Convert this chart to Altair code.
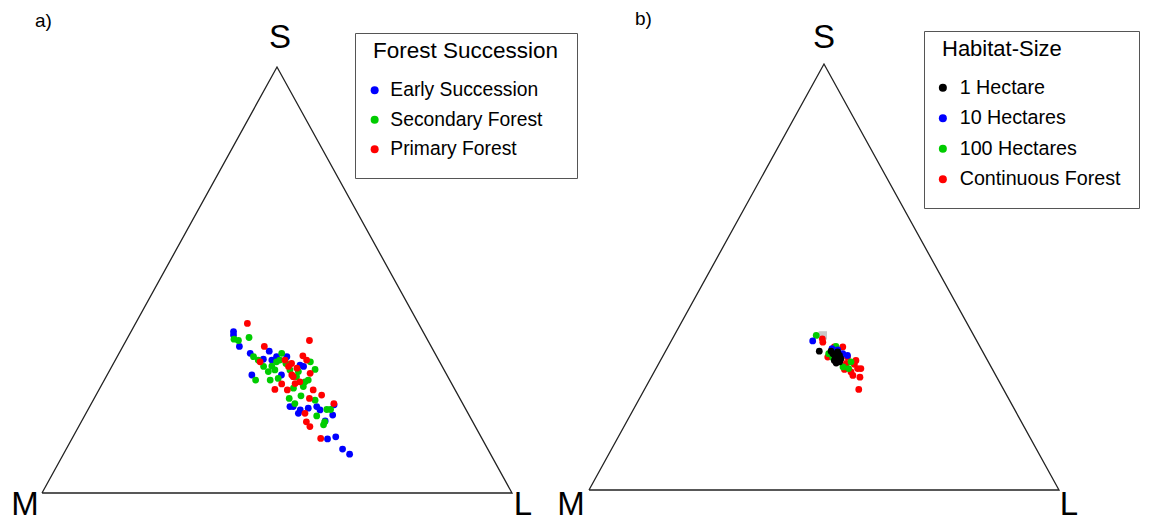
import altair as alt
import pandas as pd

FONT = "Liberation Sans, Arial, sans-serif"

# ---------------- Panel a) Forest Succession : shares of S and L (%), M = 100 - S - L
succession_names = ["Early Succession", "Secondary Forest", "Primary Forest"]
succession_colors = ["#0000ff", "#00cc00", "#ff0000"]

early_S = [37.9, 37.1, 34.4, 33.3, 32.8, 31.4, 30.0, 32.0, 27.7, 20.3, 19.5, 19.9, 20.3, 20.7,
           18.3, 16.9, 12.7, 13.2, 10.3, 9.1, 29.7, 20.3, 19.5, 18.7, 27.7, 32.0, 31.2]
early_L = [21.8, 22.2, 24.8, 31.7, 27.9, 31.4, 39.9, 33.9, 30.8, 43.3, 45.2, 46.7, 48.3, 51.8,
           52.7, 51.8, 54.4, 55.9, 58.8, 60.9, 40.8, 42.6, 49.4, 45.2, 37.1, 36.1, 33.3]
secondary_S = [36.1, 35.8, 36.5, 32.0, 31.2, 32.8, 30.8, 30.4, 30.8, 29.7, 29.8, 28.5, 29.0, 26.5,
               26.5, 26.9, 24.6, 26.1, 26.5, 22.8, 22.2, 21.8, 21.0, 19.6, 19.6, 18.1, 16.0, 16.7,
               28.9, 28.5, 31.2, 27.3, 25.0, 28.9]
secondary_L = [22.8, 23.9, 25.8, 29.0, 30.4, 34.6, 34.5, 36.7, 41.7, 32.3, 34.0, 40.3, 43.6, 32.2,
               35.3, 36.8, 41.2, 42.9, 43.4, 43.7, 41.5, 47.2, 43.3, 50.8, 51.6, 49.4, 51.9, 51.8,
               38.3, 33.9, 35.0, 40.5, 43.1, 35.1]
primary_S = [39.8, 35.8, 34.4, 30.8, 32.2, 31.2, 29.7, 27.7, 25.6, 24.3, 24.2, 26.1, 24.2, 23.0,
             22.2, 21.0, 18.7, 16.7, 15.6, 12.8, 27.3, 29.3, 31.2, 28.1, 25.7, 30.4]
primary_L = [23.8, 39.0, 30.1, 31.0, 39.4, 40.7, 37.6, 39.3, 38.2, 37.4, 40.1, 41.8, 45.6, 48.0,
             45.8, 51.6, 46.6, 47.9, 49.2, 52.9, 39.8, 39.6, 36.1, 43.0, 41.0, 37.9]

# ---------------- Panel b) Habitat-Size
habitat_names = ["1 Hectare", "10 Hectares", "100 Hectares", "Continuous Forest"]
habitat_colors = ["#000000", "#0000ff", "#00cc00", "#ff0000"]

one_S = [32.6, 32.6, 32.0, 31.2, 32.4, 31.6, 30.4, 30.1, 30.8, 29.8]
one_L = [32.7, 35.2, 35.9, 36.8, 36.7, 37.5, 37.0, 38.3, 38.2, 37.7]
ten_S = [35.0, 32.9, 32.0, 31.6, 33.2]
ten_L = [30.1, 36.5, 38.0, 39.2, 35.1]
hundred_S = [36.3, 33.7, 32.0, 30.1, 28.9, 28.5, 31.1]
hundred_L = [30.2, 35.7, 35.0, 40.7, 39.6, 41.0, 36.3]
cont_S = [35.5, 34.7, 33.6, 33.6, 31.2, 31.2, 28.3, 29.5, 28.5, 27.7, 28.5, 26.5, 26.9, 23.6, 29.7, 30.4]
cont_L = [31.9, 32.4, 35.4, 37.2, 35.2, 39.4, 40.2, 41.7, 42.9, 41.9, 43.6, 44.4, 42.7, 45.6, 39.9, 41.6]
gray_S = [36.3]
gray_L = [31.6]

# triangle vertices (M -> L -> S -> M)
vertex_names = ["M", "L", "S", "M"]
vertex_S = [0, 0, 100, 0]
vertex_L = [0, 100, 0, 0]

# layout: panel b drawn beside panel a in the same ternary units
PANEL_SHIFT = {"a": (0.0, 0.0), "b": (116.38, 0.7)}


def frame(groups, field):
    rows = []
    for name, S, L in groups:
        for s, l in zip(S, L):
            rows.append({field: name, "S": s, "L": l})
    return pd.DataFrame(rows)


vert_df = pd.DataFrame({"vertex": vertex_names, "S": vertex_S, "L": vertex_L,
                        "order": list(range(len(vertex_names)))})

X = alt.X("px:Q", scale=alt.Scale(domain=[-7.234, 235.319], nice=False, zero=False), axis=None)
Y = alt.Y("py:Q", scale=alt.Scale(domain=[-6.573, 113.850], nice=False, zero=False), axis=None)


def place(chart, panel):
    dx, dy = PANEL_SHIFT[panel]
    return chart.transform_calculate(px=f"datum.L + datum.S / 2 + {dx}", py=f"datum.S + {dy}")


def panel_layers(panel, label_offsets, tag, tag_pos):
    base_v = place(alt.Chart(vert_df), panel)
    layers = [base_v.mark_line(stroke="#222222", strokeWidth=1.3).encode(x=X, y=Y, order="order:Q")]
    for i, (name, dx, dy) in enumerate(label_offsets):
        layers.append(
            base_v.transform_filter(f"datum.order == {i}").mark_text(
                text=name, dx=dx, dy=dy, fontSize=33, font=FONT, color="black",
                align="center", baseline="alphabetic").encode(x=X, y=Y)
        )
    layers.append(
        alt.Chart(pd.DataFrame({"t": [tag]})).mark_text(
            align="left", baseline="alphabetic", fontSize=19, font=FONT, color="black"
        ).encode(x=alt.value(tag_pos[0]), y=alt.value(tag_pos[1]), text="t:N")
    )
    return layers


legend_common = dict(
    orient="none", titleFont=FONT, titleFontWeight="normal", titleColor="black",
    titleAnchor="start", titleBaseline="middle", titlePadding=7, titleLimit=500,
    labelFont=FONT, labelColor="black", labelLimit=500,
    symbolType="circle", symbolSize=64, symbolStrokeWidth=0, symbolOpacity=1,
    strokeColor="#555555", fillColor="white",
)
legend_a = alt.Legend(legendX=347, legendY=25, title="Forest Succession", padding=18,
                      titleFontSize=22.5, labelFontSize=19.3, labelOffset=6, rowPadding=9.5,
                      symbolOffset=-8, **legend_common)
legend_b = alt.Legend(legendX=916, legendY=23, title="Habitat-Size", padding=18,
                      titleFontSize=22, labelFontSize=19.7, labelOffset=7, rowPadding=9.5,
                      symbolOffset=-9, **legend_common)

df_a = frame([("Early Succession", early_S, early_L),
              ("Secondary Forest", secondary_S, secondary_L),
              ("Primary Forest", primary_S, primary_L)], "succession")
df_b = frame([("Continuous Forest", cont_S, cont_L),
              ("100 Hectares", hundred_S, hundred_L),
              ("10 Hectares", ten_S, ten_L),
              ("1 Hectare", one_S, one_L)], "habitat")
gray_df = pd.DataFrame({"S": gray_S, "L": gray_L})

pts_a = place(alt.Chart(df_a), "a").mark_circle(size=46, opacity=1).encode(
    x=X, y=Y,
    color=alt.Color("succession:N", scale=alt.Scale(domain=succession_names, range=succession_colors),
                    legend=legend_a))
gray_b = place(alt.Chart(gray_df), "b").mark_square(size=70, color="#c8c8c8", opacity=1).encode(x=X, y=Y)
pts_b = place(alt.Chart(df_b), "b").mark_circle(size=46, opacity=1).encode(
    x=X, y=Y,
    color=alt.Color("habitat:N", scale=alt.Scale(domain=habitat_names, range=habitat_colors),
                    legend=legend_b))

layers = (panel_layers("a", [("M", -17, 22), ("L", 11, 22), ("S", 3, -19)], "a)", (27, 19))
          + [pts_a]
          + panel_layers("b", [("M", -18, 25), ("L", 10, 25), ("S", 0, -16)], "b)", (627, 17))
          + [gray_b, pts_b])

chart = alt.layer(*layers).resolve_scale(color="independent").properties(
    width=1140, height=513, padding=0, autosize=alt.AutoSizeParams(type="none"),
).configure_view(stroke=None)

chart.save("out.html", embed_options={"renderer": "svg", "actions": False})
